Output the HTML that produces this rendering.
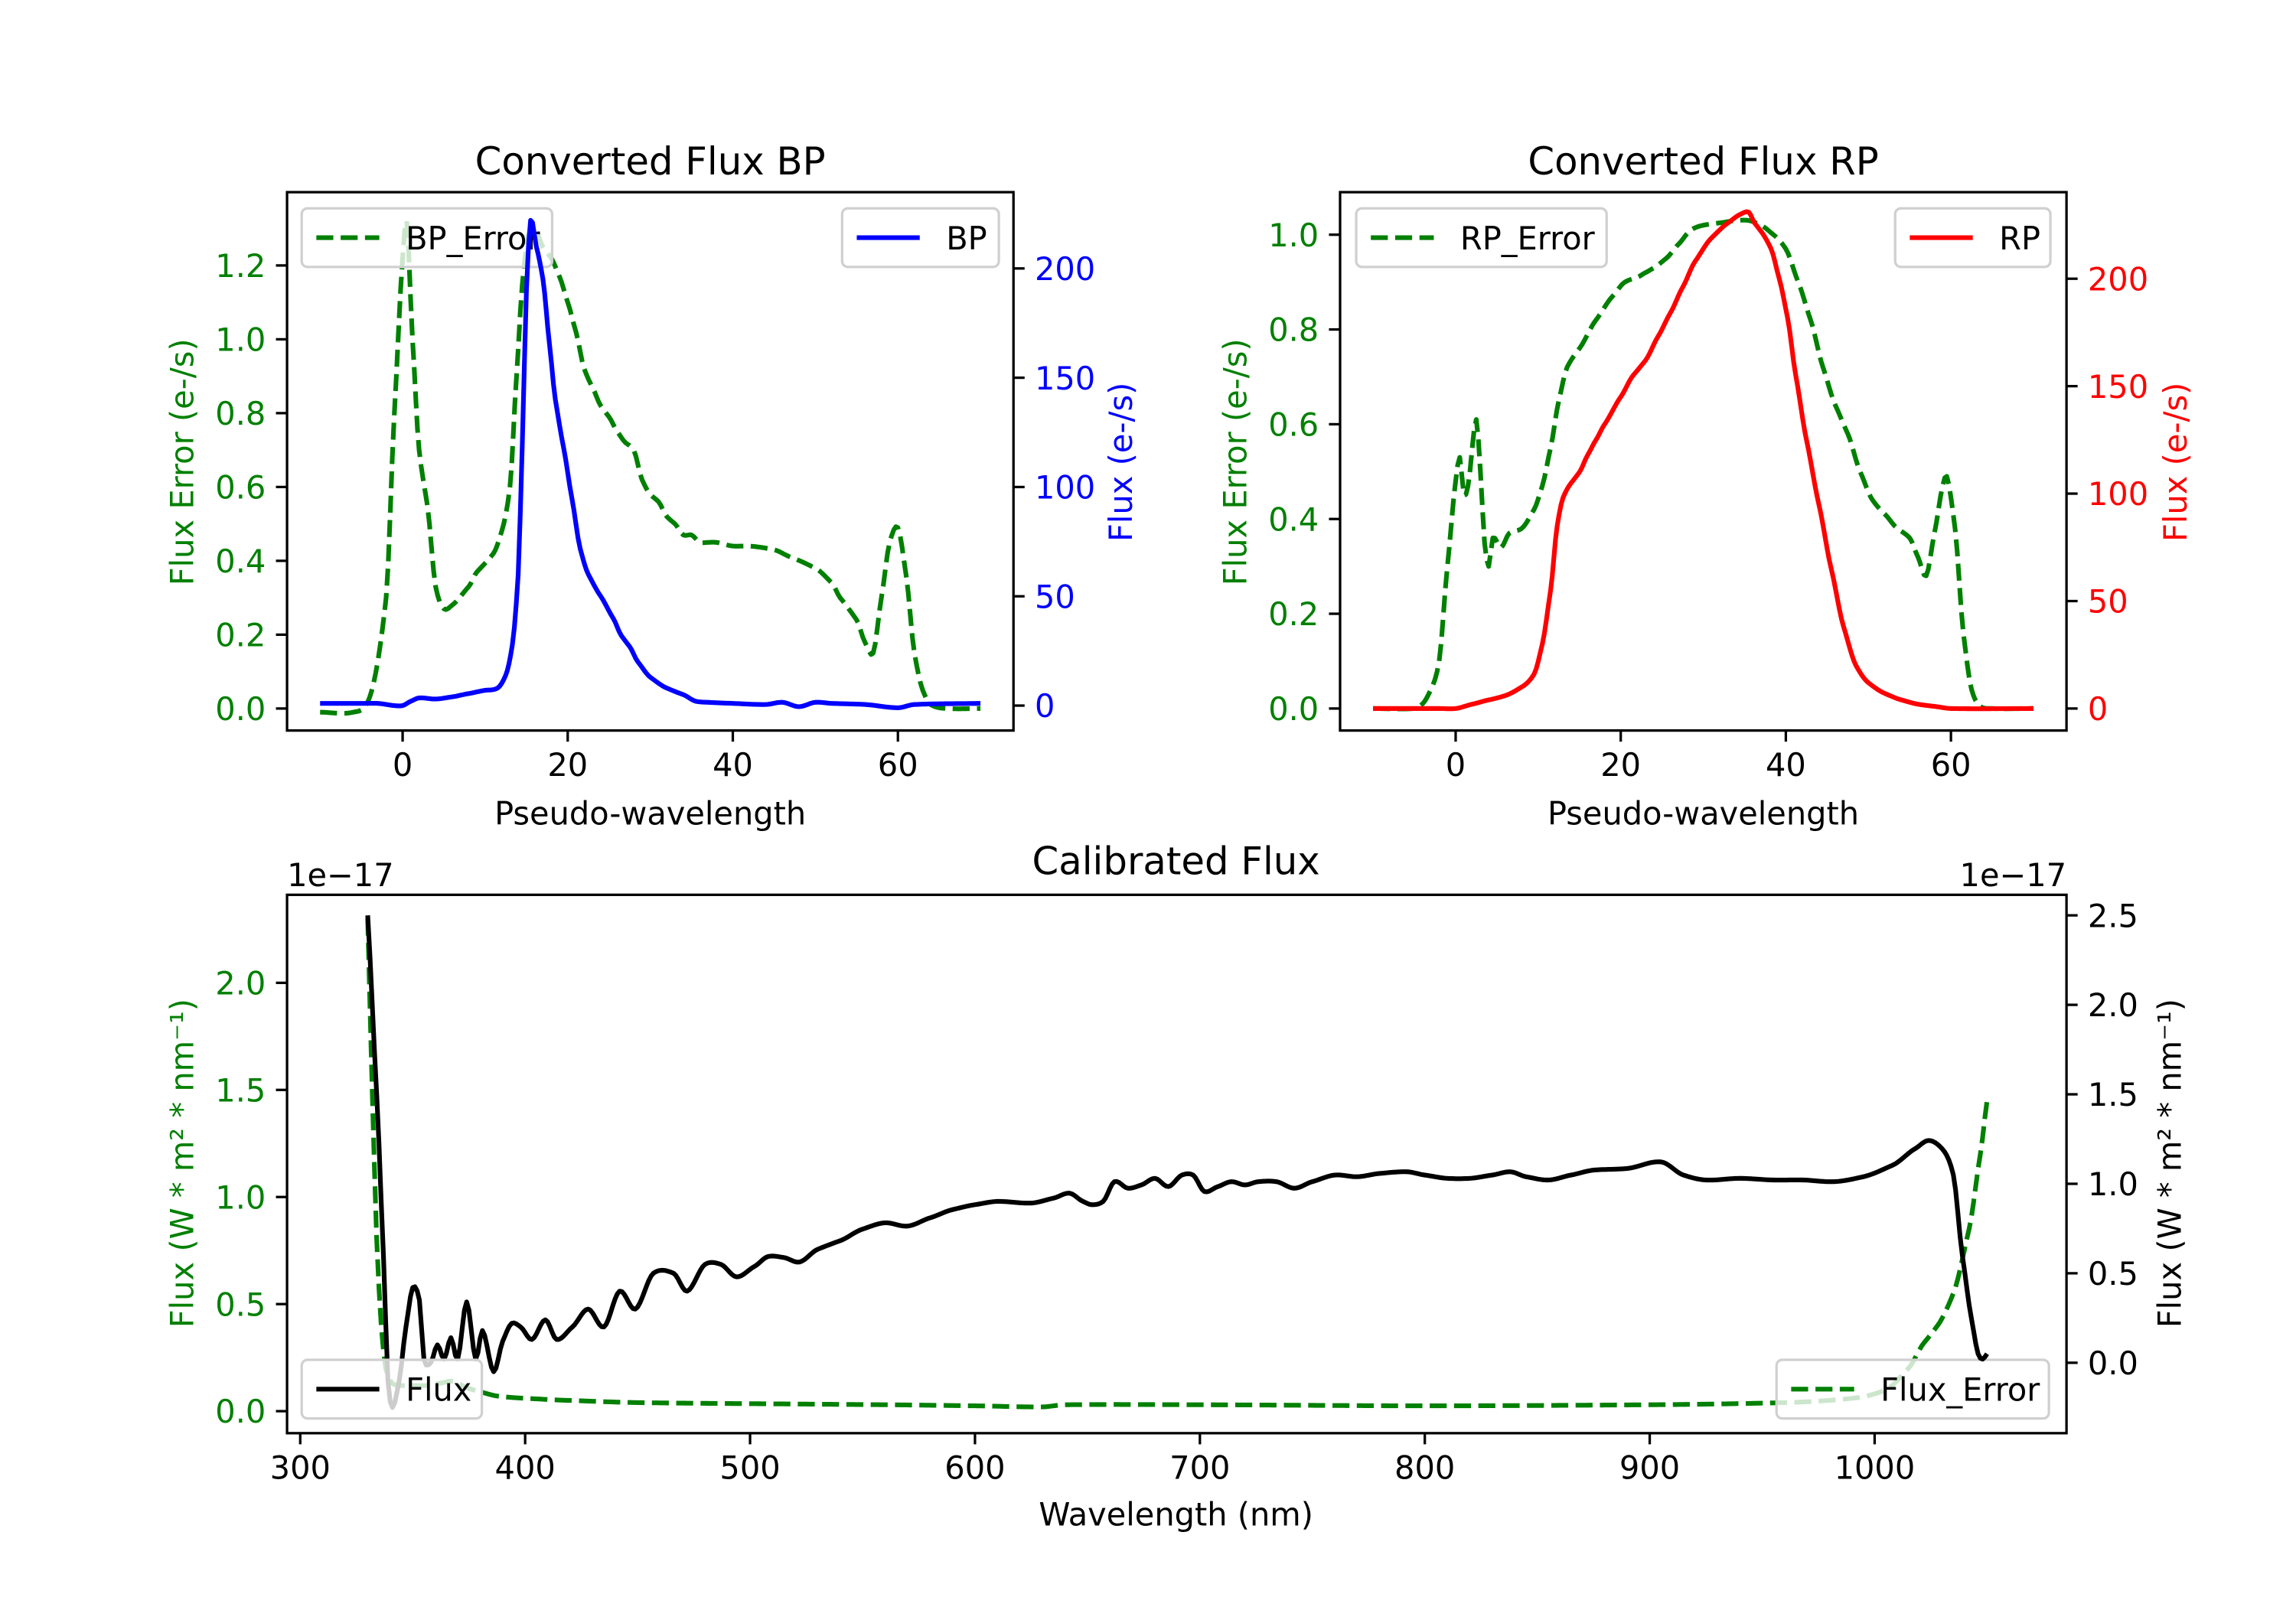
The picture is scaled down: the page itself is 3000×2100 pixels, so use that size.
<!DOCTYPE html>
<html><head><meta charset="utf-8"><style>
html,body{margin:0;padding:0;background:#fff}
svg{display:block}
text{font-family:"DejaVu Sans","Liberation Sans",sans-serif}
</style></head><body>
<svg id="s" width="3000" height="2100" viewBox="0 0 1567.7 1095.5" preserveAspectRatio="none" xmlns="http://www.w3.org/2000/svg">
<rect width="1567.7" height="1095.5" fill="#fff"/>
<g id="g"></g>
</svg>
<script>
const NS="http://www.w3.org/2000/svg";
const g=document.getElementById('g');
const FS=21.7, TS=26;
function el(t,a,txt){const e=document.createElementNS(NS,t);for(const k in a)e.setAttribute(k,a[k]);if(txt!==undefined)e.textContent=txt;g.appendChild(e);return e;}
function interp(pts,step){
  const out=[];
  for(let i=0;i<pts.length-1;i++){
    const p0=pts[Math.max(0,i-1)],p1=pts[i],p2=pts[i+1],p3=pts[Math.min(pts.length-1,i+2)];
    const n=Math.max(2,Math.ceil((p2[0]-p1[0])/step));
    for(let j=0;j<n;j++){const t=j/n;
      const m1=(p2[1]-p0[1])/(p2[0]-p0[0]||1)*(p2[0]-p1[0]);
      const m2=(p3[1]-p1[1])/(p3[0]-p1[0]||1)*(p2[0]-p1[0]);
      const h00=2*t*t*t-3*t*t+1,h10=t*t*t-2*t*t+t,h01=-2*t*t*t+3*t*t,h11=t*t*t-t*t;
      out.push([p1[0]+(p2[0]-p1[0])*t,h00*p1[1]+h10*m1*0.8+h01*p2[1]+h11*m2*0.8]);}
  }
  out.push(pts[pts.length-1]);return out;
}
function path(pts,fx,fy,col,dash,step){
  const s=interp(pts,step||0.5);
  const d=s.map((p,i)=>(i?'L':'M')+fx(p[0]).toFixed(2)+','+fy(p[1]).toFixed(2)).join('');
  const a={d:d,fill:'none',stroke:col,'stroke-width':3.2,'stroke-linejoin':'round'};
  if(dash)a['stroke-dasharray']='11.6,5';
  el('path',a);
}
function frame(x0,y0,x1,y1){el('rect',{x:x0,y:y0,width:x1-x0,height:y1-y0,fill:'none',stroke:'#000','stroke-width':1.7});}
function xticks(vals,fx,y,lab){vals.forEach(v=>{const x=fx(v);el('line',{x1:x,y1:y,x2:x,y2:y+7.6,stroke:'#000','stroke-width':1.7});el('text',{x:x,y:y+31,'font-size':FS,'text-anchor':'middle'},lab?lab(v):String(v));});}
function yticksL(vals,fy,x,col,fmt){vals.forEach(v=>{const y=fy(v);el('line',{x1:x,y1:y,x2:x-7.6,y2:y,stroke:'#000','stroke-width':1.7});el('text',{x:x-14.5,y:y+7.9,'font-size':FS,'text-anchor':'end',fill:col},fmt(v));});}
function yticksR(vals,fy,x,col,fmt){vals.forEach(v=>{const y=fy(v);el('line',{x1:x,y1:y,x2:x+7.6,y2:y,stroke:'#000','stroke-width':1.7});el('text',{x:x+14.5,y:y+7.9,'font-size':FS,'text-anchor':'start',fill:col},fmt(v));});}
function legend(x,y,w,col,dash,label){
  el('rect',{x:x,y:y,width:w,height:40,rx:4,fill:'#fff','fill-opacity':0.8,stroke:'#d0d0d0','stroke-width':1.7});
  const a={x1:x+10,y1:y+20,x2:x+53,y2:y+20,stroke:col,'stroke-width':3.2};if(dash)a['stroke-dasharray']='11.6,5';el('line',a);
  el('text',{x:x+71,y:y+28,'font-size':FS},label);
}
const f1=v=>v.toFixed(1);
const f0=v=>String(v);
// ---------- BP ----------
{const X=v=>196+(v+14)*(496/88), YL=v=>483-v*251.7, YR=v=>481-v*1.49;
el('text',{x:444,y:119,'font-size':TS,'text-anchor':'middle'},'Converted Flux BP');
path([[-10,-0.01],[-6,-0.01],[-4,0.03],[-2,0.3],[-1,0.8],[0,1.22],[0.5,1.32],[1.2,1.0],[2,0.7],[3,0.55],[4,0.33],[5,0.27],[6,0.28],[8,0.33],[9,0.37],[11,0.42],[12,0.48],[13,0.6],[13.8,0.9],[14.5,1.15],[15.2,1.28],[16,1.3],[17,1.25],[18,1.22],[19,1.17],[20,1.1],[21,1.02],[22,0.92],[23,0.87],[24,0.82],[25,0.79],[26,0.75],[27,0.72],[28,0.7],[29,0.62],[30,0.58],[31,0.56],[32,0.52],[33,0.5],[34,0.47],[35,0.47],[36,0.45],[37,0.45],[38,0.45],[40,0.44],[42,0.44],[45,0.43],[47,0.41],[50,0.38],[52,0.34],[53,0.3],[55,0.24],[56,0.18],[57,0.15],[58,0.3],[59,0.45],[60,0.49],[61,0.36],[62,0.15],[63,0.05],[64,0.01],[66,0],[70,0]],X,YL,'green',true,0.25);
legend(206,142,171,'green',true,'BP_Error');
path([[-10,1],[-5,1],[-3,1],[-1,0],[0,0],[1,2],[2,3.5],[4,3],[6,4],[8,5.5],[10,7],[11.5,8],[12.5,14],[13.3,28],[14,60],[14.5,120],[15,190],[15.5,222],[16.2,210],[17,195],[17.8,165],[18.5,140],[19.5,118],[20.5,95],[21.5,72],[22.5,60],[24,50],[25.5,40],[26.5,32],[27.5,27],[28.5,20],[30,13],[32,8],[34,5],[35.5,2],[37,1.5],[40,1],[44,0.5],[46,1.5],[48,-0.5],[50,1.5],[52,1],[56,0.5],[60,-1],[62,0.5],[70,1]],X,YR,'blue',false,0.25);
legend(575,142,107,'blue',false,'BP');
frame(196,131,692,498);
xticks([0,20,40,60],X,498);
yticksL([0,0.2,0.4,0.6,0.8,1.0,1.2],YL,196,'green',f1);
yticksR([0,50,100,150,200],YR,692,'blue',f0);
el('text',{x:444,y:562,'font-size':FS,'text-anchor':'middle'},'Pseudo-wavelength');
el('text',{transform:'translate(132,315) rotate(-90)','font-size':FS,'text-anchor':'middle',fill:'green'},'Flux Error (e-/s)');
el('text',{transform:'translate(773,315) rotate(-90)','font-size':FS,'text-anchor':'middle',fill:'blue'},'Flux (e-/s)');
}
// ---------- RP ----------
{const X=v=>915+(v+14)*(496/88), YL=v=>483-v*323, YR=v=>483-v*1.465;
el('text',{x:1163,y:119,'font-size':TS,'text-anchor':'middle'},'Converted Flux RP');
path([[-10,0],[-5,0],[-4,0.01],[-3,0.04],[-2,0.1],[-1,0.3],[0,0.48],[0.5,0.53],[1,0.45],[1.5,0.47],[2.5,0.61],[3,0.5],[3.5,0.35],[4,0.3],[4.5,0.36],[5.5,0.34],[6.5,0.37],[8,0.38],[9.5,0.42],[10.5,0.47],[11.5,0.55],[12.5,0.65],[13.5,0.72],[15,0.76],[17,0.82],[19,0.87],[20.5,0.9],[22,0.91],[23,0.92],[24,0.93],[25.5,0.95],[27,0.98],[28.5,1.01],[30,1.02],[32,1.025],[34,1.03],[35.5,1.03],[37,1.02],[38.5,1.0],[40,0.97],[41.5,0.9],[43,0.82],[44.5,0.72],[46,0.64],[47.5,0.58],[49,0.5],[50.5,0.44],[52,0.41],[53.5,0.38],[55,0.36],[56,0.32],[57,0.28],[58,0.37],[59,0.47],[59.5,0.49],[60.5,0.38],[61.5,0.16],[62.5,0.04],[63.5,0.005],[65,0],[70,0]],X,YL,'green',true,0.25);
legend(926,142,171,'green',true,'RP_Error');
path([[-10,0],[-2,0],[0,0],[2,2],[4,4],[6,6],[8,10],[9.5,16],[10.5,30],[11.5,55],[12.3,85],[13,98],[14,105],[15,110],[16,118],[17,125],[18,132],[20,145],[21.5,155],[23,162],[24.5,173],[26,184],[27.5,196],[29,208],[31,219],[33,226],[34.5,230],[35.5,231],[36.2,226],[37,222],[38.2,214],[39.2,200],[40.2,182],[41.2,155],[42.5,125],[44,95],[45.5,65],[47,38],[48.5,20],[50,12],[52,7],[54,4],[56,2],[58,1],[60,0],[70,0]],X,YR,'red',false,0.25);
legend(1294,142,106,'red',false,'RP');
frame(915,131,1411,498);
xticks([0,20,40,60],X,498);
yticksL([0,0.2,0.4,0.6,0.8,1.0],YL,915,'green',f1);
yticksR([0,50,100,150,200],YR,1411,'red',f0);
el('text',{x:1163,y:562,'font-size':FS,'text-anchor':'middle'},'Pseudo-wavelength');
el('text',{transform:'translate(851,315) rotate(-90)','font-size':FS,'text-anchor':'middle',fill:'green'},'Flux Error (e-/s)');
el('text',{transform:'translate(1493,315) rotate(-90)','font-size':FS,'text-anchor':'middle',fill:'red'},'Flux (e-/s)');
}
// ---------- Calibrated ----------
{const X=v=>205+(v-300)*1.5357, YL=v=>962-v*146, YR=v=>929-v*122;
el('text',{x:803,y:596,'font-size':TS,'text-anchor':'middle'},'Calibrated Flux');
path([[330,2.3],[332,1.5],[334,0.8],[336,0.4],[338,0.2],[341,0.13],[345,0.12],[350,0.12],[356,0.12],[362,0.13],[368,0.14],[374,0.11],[380,0.09],[388,0.07],[400,0.06],[420,0.05],[450,0.04],[500,0.035],[560,0.03],[600,0.025],[630,0.02],[640,0.03],[700,0.03],[800,0.025],[900,0.03],[960,0.04],[990,0.06],[1005,0.1],[1015,0.2],[1022,0.32],[1028,0.4],[1035,0.55],[1042,0.85],[1047,1.2],[1050,1.45]],X,YL,'green',true,1);
legend(1213,927,186,'green',true,'Flux_Error');
let fl=[[330,2.5],[334,1.5],[337,0.6],[339,-0.1],[341,-0.25],[344,-0.1],[347,0.2],[350,0.42],[353,0.35],[355,0.02],[358,0.0],[361,0.1],[364,0.02],[367,0.14],[370,0.02],[374,0.34],[378,0.02],[381,0.18],[386,-0.05],[390,0.12],[394,0.22],[398,0.2],[403,0.13],[409,0.24],[414,0.13],[421,0.2],[428,0.3],[435,0.2],[442,0.4],[449,0.3],[457,0.5],[466,0.5],[472,0.4],[480,0.55],[487,0.55],[494,0.48],[502,0.54],[508,0.6],[515,0.6],[522,0.58],[530,0.66],[540,0.72],[550,0.8],[560,0.85],[570,0.83],[580,0.88],[590,0.93],[600,0.96],[610,0.98],[625,0.97],[635,1.0],[642,1.03],[648,0.98],[652,0.96],[657,0.98],[662,1.1],[668,1.06],[674,1.08],[680,1.12],[686,1.07],[692,1.14],[697,1.14],[702,1.04],[708,1.07],[714,1.1],[720,1.08],[726,1.1],[734,1.1],[742,1.06],[750,1.1],[760,1.14],[770,1.13],[780,1.15],[792,1.16],[800,1.14],[810,1.12],[820,1.12],[830,1.14],[838,1.16],[845,1.13],[855,1.11],[865,1.14],[875,1.17],[890,1.18],[905,1.22],[915,1.14],[925,1.11],[940,1.12],[955,1.11],[968,1.11],[982,1.1],[995,1.13],[1008,1.2],[1018,1.3],[1024,1.35],[1030,1.3],[1035,1.05],[1039,0.6],[1043,0.25],[1046,0.05],[1048,0.02],[1050,0.05]];
fl=fl.map(p=>{let f=1;if(p[0]>=500&&p[0]<=1032){f=p[0]<560?1-0.08*(p[0]-500)/60:0.92;}return [p[0],p[1]*f];});
path(fl,X,YR,'#000',false,1);
legend(206,927,123,'#000',false,'Flux');
frame(196,610,1411,977);
xticks([300,400,500,600,700,800,900,1000],X,977);
yticksL([0,0.5,1.0,1.5,2.0],YL,196,'green',f1);
yticksR([0,0.5,1.0,1.5,2.0,2.5],YR,1411,'#000',f1);
el('text',{x:196,y:604,'font-size':FS},'1e\u221217');
el('text',{x:1411,y:604,'font-size':FS,'text-anchor':'end'},'1e\u221217');
el('text',{x:803,y:1040,'font-size':FS,'text-anchor':'middle'},'Wavelength (nm)');
el('text',{transform:'translate(132,793) rotate(-90)','font-size':FS,'text-anchor':'middle',fill:'green'},'Flux (W * m\u00b2 * nm\u207b\u00b9)');
el('text',{transform:'translate(1489,793) rotate(-90)','font-size':FS,'text-anchor':'middle',fill:'#000'},'Flux (W * m\u00b2 * nm\u207b\u00b9)');
}
</script>
</body></html>
